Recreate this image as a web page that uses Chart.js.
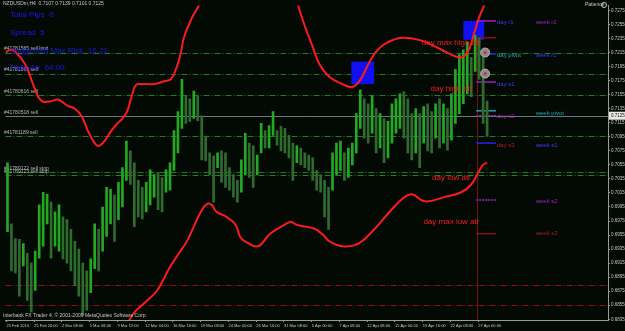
<!DOCTYPE html>
<html lang="en">
<head>
<meta charset="UTF-8">
<title>NZDUSDm,H4</title>
<style>
  html, body { margin: 0; padding: 0; background: #030a03; }
  #wrap { position: relative; width: 625px; height: 331px; }
</style>
<script src="https://cdn.jsdelivr.net/npm/chart.js"></script>
</head>
<body>
<div id="wrap"><canvas id="chart" width="625" height="331"></canvas></div>
<script>
  // H4 bars, high / low (one entry per drawn bar)
  const highs = [0.7058,0.6971,0.6950,0.6949,0.6943,0.6929,0.6915,0.6932,0.6998,0.7016,
                 0.7013,0.7002,0.6988,0.6998,0.6981,0.6977,0.6963,0.6946,0.6935,0.6915,
                 0.6904,0.6921,0.6971,0.6963,0.6995,0.7023,0.7020,0.7012,0.7030,0.7051,
                 0.7089,0.7075,0.7058,0.7033,0.7023,0.7030,0.7048,0.7041,0.7044,0.7037,
                 0.7048,0.7058,0.7104,0.7131,0.7177,0.7153,0.7149,0.7160,0.7153,0.7125,
                 0.7096,0.7072,0.7068,0.7072,0.7075,0.7072,0.7051,0.7041,0.7033,0.7062,
                 0.7100,0.7086,0.7082,0.7069,0.7114,0.7104,0.7111,0.7131,0.7104,0.7110,
                 0.7107,0.7097,0.7086,0.7082,0.7079,0.7072,0.7069,0.7065,0.7047,0.7041,
                 0.7033,0.7023,0.7072,0.7086,0.7089,0.7072,0.7079,0.7086,0.7128,0.7162,
                 0.7149,0.7142,0.7153,0.7135,0.7128,0.7121,0.7117,0.7142,0.7149,0.7156,
                 0.7159,0.7149,0.7128,0.7135,0.7128,0.7138,0.7142,0.7131,0.7142,0.7149,
                 0.7142,0.7135,0.7156,0.7191,0.7212,0.7219,0.7230,0.7208,0.7240,0.7236,
                 0.7212,0.7146];
  const lows  = [0.6960,0.6904,0.6901,0.6868,0.6911,0.6862,0.6845,0.6876,0.6922,0.6939,
                 0.6971,0.6922,0.6939,0.6932,0.6921,0.6915,0.6904,0.6883,0.6868,0.6841,
                 0.6848,0.6873,0.6907,0.6904,0.6932,0.6953,0.6971,0.6946,0.6977,0.6995,
                 0.7033,0.7027,0.6967,0.6981,0.6978,0.6988,0.6998,0.7009,0.6991,0.6988,
                 0.7016,0.7019,0.7047,0.7072,0.7107,0.7114,0.7117,0.7121,0.7118,0.7062,
                 0.7061,0.7041,0.7002,0.7051,0.7030,0.7023,0.7019,0.7009,0.7002,0.7016,
                 0.7041,0.7037,0.7023,0.7041,0.7072,0.7079,0.7079,0.7097,0.7083,0.7075,
                 0.7072,0.7065,0.7033,0.7058,0.7055,0.7051,0.7047,0.7033,0.7019,0.7016,
                 0.6981,0.6963,0.7019,0.7041,0.7047,0.7033,0.7037,0.7055,0.7072,0.7107,
                 0.7093,0.7086,0.7100,0.7072,0.7079,0.7058,0.7065,0.7086,0.7100,0.7107,
                 0.7093,0.7072,0.7062,0.7072,0.7051,0.7086,0.7075,0.7072,0.7093,0.7079,
                 0.7086,0.7076,0.7090,0.7114,0.7128,0.7142,0.7156,0.7152,0.7188,0.7177,
                 0.7114,0.7096];

  // ATR envelope (red curves): bar position and price
  const upperPos  = [-0.5,0.75,2,4.5,6.25,7.75,9,11.25,12.75,15.25,17,18.75,20.25,22,23,24.5,26.25,27.75,29,30.25,31.5,32.5,34.5,37,39.5,41.25,42.75,43.75,44.5,46.5,48.25,49.5,
                     60,
                     72.75,74.5,77,78.75,81.25,84.5,87,89,91,93.25,95.75,99.5,104.5,109.5,113.25,115,116.5,117.75,119,120.25,121];
  const upperBand = [0.7215,0.7219,0.7216,0.7198,0.7173,0.7152,0.7145,0.7146,0.7148,0.7139,0.7135,0.7124,0.7104,0.7086,0.7082,0.7089,0.7104,0.7114,0.7121,0.7132,0.7156,0.7169,0.7170,0.7170,0.7174,0.7177,0.7195,0.7215,0.7236,0.7264,0.7282,0.7303,
                     null,
                     0.7293,0.7261,0.7223,0.7198,0.7180,0.7170,0.7166,0.7176,0.7198,0.7218,0.7229,0.7236,0.7232,0.7219,0.7209,0.7209,0.7220,0.7243,0.7265,0.7282,0.7290];
  const lowerPos  = [30.5,32,34.5,37.75,40.75,43.25,45.25,47,48.75,50.25,51.5,52.75,55.25,57.5,58.75,60.25,63.25,66.25,70,71.5,72.75,75.25,77.5,79.5,81.25,84.5,88.25,92,95.75,99.5,102,105.25,110.25,114.5,117,118.75,120,121];
  const lowerBand = [0.6831,0.6845,0.6858,0.6876,0.6907,0.6929,0.6946,0.6967,0.6988,0.6999,0.6998,0.6988,0.6981,0.6970,0.6952,0.6945,0.6939,0.6957,0.6970,0.6974,0.6970,0.6967,0.6964,0.6956,0.6946,0.6939,0.6942,0.6960,0.6984,0.7006,0.7013,0.7003,0.7009,0.7016,0.7027,0.7044,0.7055,0.7058];

  const yTicks = [0.6835,0.6855,0.6875,0.6895,0.6915,0.6935,0.6955,0.6975,0.6995,0.7015,0.7035,0.7055,
                  0.7075,0.7095,0.7115,0.7135,0.7155,0.7175,0.7195,0.7215,0.7235,0.7255,0.7275];
  const dateLabels = ['23 Feb 2010','25 Feb 20:00','2 Mar 08:00','5 Mar 08:00','9 Mar 12:00','12 Mar 04:00',
                      '16 Mar 16:00','19 Mar 08:00','24 Mar 00:00','26 Mar 16:00','31 Mar 08:00','5 Apr 00:00',
                      '7 Apr 08:00','12 Apr 08:00','15 Apr 00:00','19 Apr 16:00','22 Apr 08:00','27 Apr 00:00'];

  // pending orders / stops / bid
  const orderLevels = [0.7215, 0.7185, 0.7155, 0.7096, 0.7045, 0.7041];
  const orderTags = ['#41781565 sell limit', '#41781566 sell', '#41780616 sell', '#41781189 sell',
                     '#41789122 sell stop', '#41789123 sell stop'];
  const bidPrice = 0.7125;
  const bidTag = '#41780518 sell';
  const stopLevels = [0.6884, 0.6855];
  const markerPrices = [0.7215, 0.7185];

  // pivot indicator
  const pivotLevels = [0.7260, 0.7236, 0.7213, 0.7173, 0.7132, 0.7125, 0.7086, 0.7005, 0.6957];
  const dayTags = ['day r1', 'day pivot', 'day s1', 'day s2', 'day s3'];
  const dayTagPrices = [0.7258, 0.7211, 0.7170, 0.7124, 0.7083];
  const weekTags = ['week r2', 'week r1', 'week pivot', 'week s1', 'week s2', 'week s3'];
  const weekTagPrices = [0.7258, 0.7211, 0.7129, 0.7083, 0.7003, 0.6957];
  const atrTags = ['day max high atr', 'day high atr', 'day low atr', 'day max low atr'];
  const atrPrices = [0.7229, 0.7163, 0.7036, 0.6974];

  // supply boxes: [from bar, to bar, top price, bottom price]
  const boxes = [[86.75, 92.5, 0.7202, 0.7170], [115, 120.25, 0.7260, 0.7233]];

  const infoLines = ['Total Pips  0', 'Spread  5', 'Suggested Max Risk  16.21', 'Daily Atr  64.00'];

  const pivotColors = ['#a020c0','#8a1010','#2424e0','#a020c0','#1aa0b0','#a020c0','#2424e0','#a020c0','#8a1010'];
  const pivotDotted = [false,false,false,false,false,true,false,true,false];
  const dayColors = ['#3a3aff','#1aa8b8','#3a3aff','#b020c0','#b02020'];
  const weekColors = ['#a020c0','#3a3aff','#1aa8b8','#3a3aff','#a020c0','#a02020'];
  const FONT = '"Liberation Sans", Arial, sans-serif';

  const barData = highs.map((h, i) => ({ x: i, y: [lows[i], h] }));
  const barColors = highs.map((h, i) => {
    if (i === 0) return '#22a822';
    return (h + lows[i]) >= (highs[i - 1] + lows[i - 1]) ? '#22a822' : '#2f6a2f';
  });

  const overlay = {
    id: 'overlay',
    beforeDraw(chart) {
      const ctx = chart.ctx;
      ctx.save();
      ctx.fillStyle = '#030a03';
      ctx.fillRect(0, 0, chart.width, chart.height);
      ctx.restore();
    },
    beforeDatasetsDraw(chart) {
      const { ctx, chartArea: a, scales: { x, y } } = chart;
      ctx.save();
      ctx.lineWidth = 1;
      // order lines
      ctx.setLineDash([6, 2, 1, 2]);
      ctx.strokeStyle = '#1f7f1f';
      orderLevels.forEach(p => {
        const py = Math.round(y.getPixelForValue(p)) + 0.5;
        ctx.beginPath(); ctx.moveTo(a.left, py); ctx.lineTo(a.right, py); ctx.stroke();
      });
      ctx.strokeStyle = '#9a0c0c';
      stopLevels.forEach(p => {
        const py = Math.round(y.getPixelForValue(p)) + 0.5;
        ctx.beginPath(); ctx.moveTo(a.left, py); ctx.lineTo(a.right, py); ctx.stroke();
      });
      ctx.setLineDash([]);
      ctx.strokeStyle = '#6a7886';
      const by = Math.round(y.getPixelForValue(bidPrice)) + 0.5;
      ctx.beginPath(); ctx.moveTo(a.left, by); ctx.lineTo(a.right, by); ctx.stroke();

      // order tags
      ctx.font = '5px ' + FONT;
      ctx.fillStyle = '#b8b8b8';
      ctx.textBaseline = 'bottom';
      orderTags.forEach((t, i) => ctx.fillText(t, 4, y.getPixelForValue(orderLevels[i]) - 1));
      ctx.fillText(bidTag, 4, by - 1);

      // boxes
      ctx.fillStyle = '#1010f0';
      boxes.forEach(b => {
        const x0 = x.getPixelForValue(b[0]), x1 = x.getPixelForValue(b[1]);
        const y0 = y.getPixelForValue(b[2]), y1 = y.getPixelForValue(b[3]);
        ctx.fillRect(x0, y0, x1 - x0, y1 - y0);
      });

      // day separator
      ctx.strokeStyle = '#7a1010';
      const vx = Math.round(x.getPixelForValue(118.5)) + 0.5;
      ctx.beginPath(); ctx.moveTo(vx, y.getPixelForValue(pivotLevels[1])); ctx.lineTo(vx, a.bottom); ctx.stroke();

      // pivot segments
      ctx.lineWidth = 1.5;
      pivotLevels.forEach((p, i) => {
        ctx.strokeStyle = pivotColors[i];
        ctx.setLineDash(pivotDotted[i] ? [2, 1] : []);
        const py = y.getPixelForValue(p);
        ctx.beginPath(); ctx.moveTo(x.getPixelForValue(118.25), py); ctx.lineTo(x.getPixelForValue(123.25), py); ctx.stroke();
      });
      ctx.restore();
    },
    afterDatasetsDraw(chart) {
      const { ctx, scales: { x, y } } = chart;
      ctx.save();
      ctx.textBaseline = 'middle';
      ctx.font = '6px ' + FONT;
      ctx.textAlign = 'left';
      dayTags.forEach((t, i) => {
        ctx.fillStyle = dayColors[i];
        ctx.fillText(t, x.getPixelForValue(123.5), y.getPixelForValue(dayTagPrices[i]));
      });
      weekTags.forEach((t, i) => {
        ctx.fillStyle = weekColors[i];
        ctx.fillText(t, x.getPixelForValue(133.25), y.getPixelForValue(weekTagPrices[i]));
      });
      ctx.font = '8px ' + FONT;
      ctx.fillStyle = '#ff1c1c';
      ctx.textAlign = 'center';
      atrTags.forEach((t, i) => ctx.fillText(t, x.getPixelForValue(112), y.getPixelForValue(atrPrices[i])));

      // info panel
      ctx.textAlign = 'left';
      ctx.fillStyle = '#1818f0';
      ctx.font = '8px ' + FONT;
      infoLines.forEach((t, i) => ctx.fillText(t, 10, 15 + i * 17.7));

      ctx.font = '5px ' + FONT;
      ctx.fillStyle = '#c8c8c8';
      ctx.fillText('NZDUSDm,H4  0.7107 0.7139 0.7101 0.7125', 3, 4);
      ctx.fillText('Interbank FX Trader 4, \u00a9 2001-2009 MetaQuotes Software Corp.', 3, 316);
      ctx.fillText('Patience', 585, 5);
      ctx.strokeStyle = '#c8c8c8';
      ctx.beginPath(); ctx.arc(604, 5, 2.5, 0, Math.PI * 2); ctx.stroke();

      // bid marker on the price axis
      const by = y.getPixelForValue(bidPrice);
      ctx.fillStyle = '#e8e8e8';
      ctx.fillRect(609, by - 4, 16, 8);
      ctx.fillStyle = '#101010';
      ctx.font = '4.5px ' + FONT;
      ctx.fillText(bidPrice.toFixed(4), 611, by);
      ctx.restore();
    }
  };

  new Chart(document.getElementById('chart'), {
    type: 'bar',
    data: {
      datasets: [
        {
          type: 'scatter',
          data: markerPrices.map(p => ({ x: 120.5, y: p })),
          pointRadius: 1.5, pointBackgroundColor: '#e02a2a', pointBorderWidth: 0, order: 0
        },
        {
          type: 'scatter',
          data: markerPrices.map(p => ({ x: 120.5, y: p })),
          pointRadius: 4.5, pointBackgroundColor: '#8c8c8c', pointBorderColor: '#b0b0b0', pointBorderWidth: 1, order: 1
        },
        {
          type: 'line',
          data: upperPos.map((p, i) => ({ x: p, y: upperBand[i] })),
          borderColor: '#ff1a1a', borderWidth: 2, pointRadius: 0, tension: 0.4, spanGaps: false, order: 2
        },
        {
          type: 'line',
          data: lowerPos.map((p, i) => ({ x: p, y: lowerBand[i] })),
          borderColor: '#ff1a1a', borderWidth: 2, pointRadius: 0, tension: 0.4, order: 2
        },
        {
          type: 'bar',
          data: barData,
          backgroundColor: barColors,
          barThickness: 2,
          grouped: false,
          order: 3
        }
      ]
    },
    options: {
      responsive: false,
      animation: false,
      layout: { padding: 0 },
      plugins: { legend: { display: false }, tooltip: { enabled: false } },
      scales: {
        x: {
          type: 'linear',
          min: -0.5,
          max: 151.5,
          offset: false,
          afterBuildTicks: s => { s.ticks = dateLabels.map((_, k) => ({ value: 7 * k - 0.25 })); },
          afterFit: s => { s.height = 11; },
          grid: { display: true, drawOnChartArea: false, offset: false, tickLength: 2, color: '#9a9a9a' },
          border: { display: true, color: '#9a9a9a' },
          ticks: {
            autoSkip: false, maxRotation: 0, align: 'start', padding: 1,
            color: '#c8c8c8', font: { size: 4, family: FONT },
            callback: (v, i) => dateLabels[i]
          }
        },
        y: {
          position: 'right',
          min: 0.6834,
          max: 0.7282,
          afterBuildTicks: s => { s.ticks = yTicks.map(v => ({ value: v })); },
          afterFit: s => { s.width = 17; },
          grid: { display: true, drawOnChartArea: false, tickLength: 2, color: '#9a9a9a' },
          border: { display: true, color: '#9a9a9a' },
          ticks: {
            padding: 1, color: '#c8c8c8', font: { size: 4.5, family: FONT },
            callback: v => v.toFixed(4)
          }
        }
      }
    },
    plugins: [overlay]
  });
</script>
</body>
</html>
